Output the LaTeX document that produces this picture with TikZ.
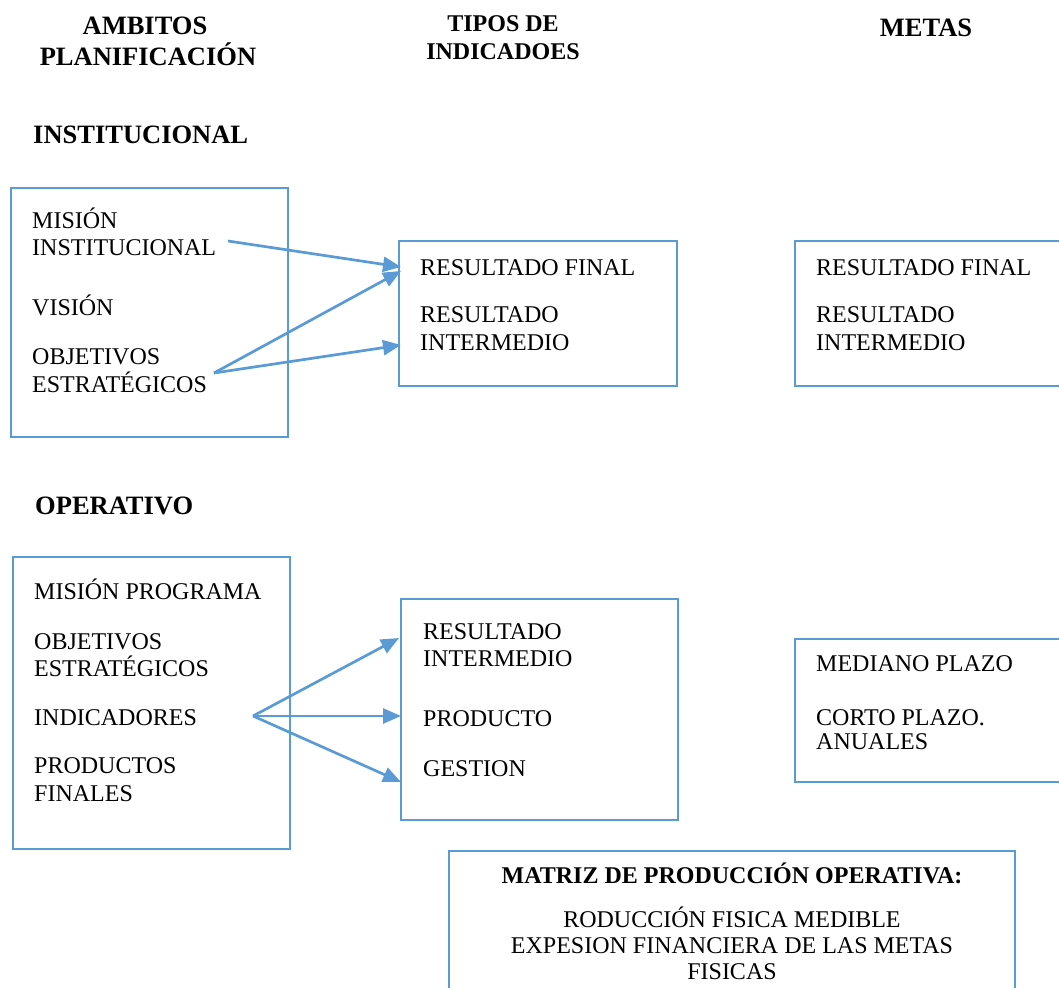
\documentclass[tikz,border=0pt]{standalone}
\usepackage{fontspec}
\setmainfont{Liberation Serif}
\usetikzlibrary{arrows.meta}
\definecolor{frameblue}{HTML}{5B9BD5}
\begin{document}
\begin{tikzpicture}[x=1pt,y=-1pt,
  box/.style={draw=frameblue,line width=2.8pt,rectangle,inner sep=0pt,outer sep=0pt,anchor=north west},
  txt/.style={anchor=base west,inner sep=0pt,font=\fontsize{24}{27.6}\selectfont},
  ctxt/.style={anchor=base,inner sep=0pt,font=\fontsize{24}{27.6}\selectfont},
  head/.style={anchor=base,inner sep=0pt,font=\fontsize{26.5}{30}\selectfont\bfseries},
  headsm/.style={anchor=base,inner sep=0pt,font=\fontsize{24}{28}\selectfont\bfseries},
  link/.style={draw=frameblue,line width=2.7pt,-{Triangle[length=18pt,width=15pt]}}]
\useasboundingbox (0,0) rectangle (1059,987);
\clip (0,0) rectangle (1059,987);

% column headings
\node[head] (h1a) at (145,35) {AMBITOS};
\node[head] (h1b) at (148,66) {PLANIFICACIÓN};
\node[headsm] (h2a) at (503,32) {TIPOS DE};
\node[headsm] (h2b) at (503,60) {INDICADOES};
\node[head] (h3) at (926,37) {METAS};

% section headings
\node[head,anchor=base west] (sec1) at (33,144) {INSTITUCIONAL};
\node[head,anchor=base west] (sec2) at (35,514) {OPERATIVO};

% institutional level boxes
\node[box,minimum width=277pt,minimum height=249pt] (A1) at (11,188) {};
\node[box,minimum width=278pt,minimum height=145pt] (B1) at (399,241) {};
\node[box,minimum width=290pt,minimum height=145pt] (C1) at (795,241) {};

\node[txt] (a1) at (32,228) {MISIÓN};
\node[txt] (a2) at (32,255) {INSTITUCIONAL};
\node[txt] (a3) at (32,315) {VISIÓN};
\node[txt] (a4) at (32,364) {OBJETIVOS};
\node[txt] (a5) at (32,392) {ESTRATÉGICOS};

\node[txt] (b1) at (420,275) {RESULTADO FINAL};
\node[txt] (b2) at (420,322) {RESULTADO};
\node[txt] (b3) at (420,350) {INTERMEDIO};

\node[txt] (c1) at (816,275) {RESULTADO FINAL};
\node[txt] (c2) at (816,322) {RESULTADO};
\node[txt] (c3) at (816,350) {INTERMEDIO};

% operative level boxes
\node[box,minimum width=277pt,minimum height=292pt] (A2) at (13,557) {};
\node[box,minimum width=277pt,minimum height=221pt] (B2) at (401,599) {};
\node[box,minimum width=290pt,minimum height=143pt] (C2) at (795,639) {};
\node[box,minimum width=566pt,minimum height=160pt] (D) at (449,851) {};

\node[txt] (d1) at (34,599) {MISIÓN PROGRAMA};
\node[txt] (d2) at (34,649) {OBJETIVOS};
\node[txt] (d3) at (34,676) {ESTRATÉGICOS};
\node[txt] (d4) at (34,725) {INDICADORES};
\node[txt] (d5) at (34,773) {PRODUCTOS};
\node[txt] (d6) at (34,801) {FINALES};

\node[txt] (e1) at (423,639) {RESULTADO};
\node[txt] (e2) at (423,666) {INTERMEDIO};
\node[txt] (e3) at (423,726) {PRODUCTO};
\node[txt] (e4) at (423,776) {GESTION};

\node[txt] (f1) at (816,671) {MEDIANO PLAZO};
\node[txt] (f2) at (816,725) {CORTO PLAZO.};
\node[txt] (f3) at (816,749) {ANUALES};

\node[headsm] (g1) at (732,883) {MATRIZ DE PRODUCCIÓN OPERATIVA:};
\node[ctxt] (g2) at (732,927) {RODUCCIÓN FISICA MEDIBLE};
\node[ctxt] (g3) at (732,953) {EXPESION FINANCIERA DE LAS METAS};
\node[ctxt] (g4) at (732,979) {FISICAS};

% connector end points
\coordinate (s1) at (228,241);
\coordinate (s2) at (214,373);
\coordinate (t1) at (401,267);
\coordinate (t2) at (401,271);
\coordinate (t3) at (401,345);
\coordinate (s3) at (253,716);
\coordinate (t4) at (399,638);
\coordinate (t5) at (401,716);
\coordinate (t6) at (401,782);

% connectors
\draw[link] (s1) -- (t1);
\draw[link] (s2) -- (t2);
\draw[link] (s2) -- (t3);
\draw[link] (s3) -- (t4);
\draw[link] (s3) -- (t5);
\draw[link] (s3) -- (t6);
\end{tikzpicture}
\end{document}
